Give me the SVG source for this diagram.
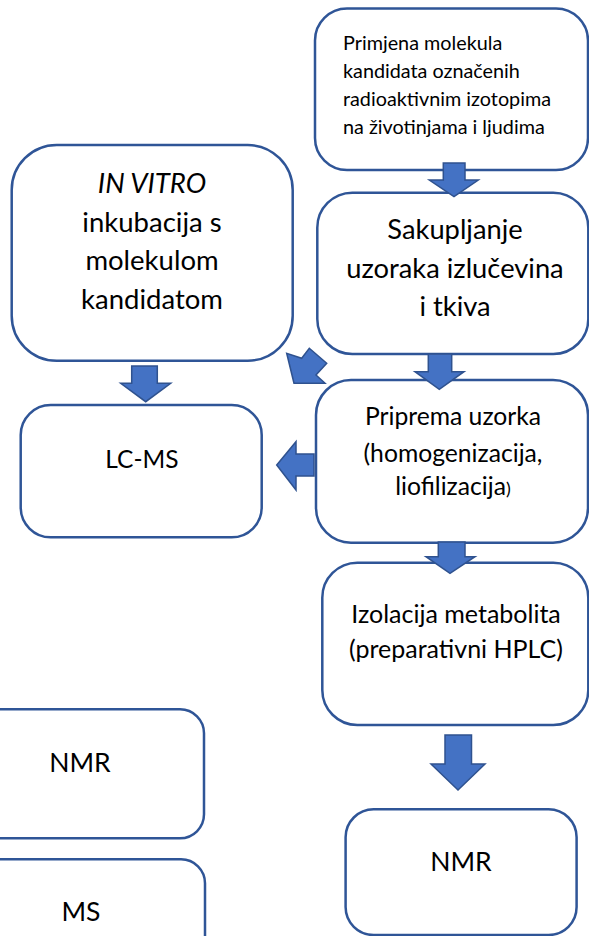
<svg xmlns="http://www.w3.org/2000/svg" width="589" height="936" viewBox="0 0 589 936">
<style>
.box{fill:#fff;stroke:#2F5597;stroke-width:2.5}
.arr{fill:#4472C4;stroke:#2F528F;stroke-width:1.5;stroke-linejoin:miter}
text{font-family:Lato,"Open Sans","Liberation Sans",sans-serif;fill:#000}
.c{text-anchor:middle}
</style>
<rect width="589" height="936" fill="#fff"/>
<g id="n-primjena">
<rect class="box" x="315" y="8.5" width="273" height="161.5" rx="32"/>
<text x="343" font-size="19.8"><tspan x="343" y="50">Primjena molekula</tspan><tspan x="343" y="78">kandidata označenih</tspan><tspan x="343" y="106">radioaktivnim izotopima</tspan><tspan x="343" y="133.5">na životinjama i ljudima</tspan></text>
</g>
<g id="n-invitro">
<rect class="box" x="11.7" y="145" width="281" height="215.7" rx="45"/>
<text class="c" font-size="27.5"><tspan x="152" y="193" font-style="italic">IN VITRO</tspan><tspan x="152" y="232">inkubacija s</tspan><tspan x="152" y="270">molekulom</tspan><tspan x="152" y="309">kandidatom</tspan></text>
</g>
<g id="n-sakupljanje">
<rect class="box" x="317.3" y="192.7" width="271" height="161.3" rx="35"/>
<text class="c" font-size="27.3"><tspan x="455" y="239">Sakupljanje</tspan><tspan x="455" y="278">uzoraka izlučevina</tspan><tspan x="455" y="316">i tkiva</tspan></text>
</g>
<g id="n-priprema">
<rect class="box" x="316" y="380" width="272" height="162.7" rx="35"/>
<text class="c" font-size="24.7"><tspan x="453" y="425">Priprema uzorka</tspan><tspan x="453" y="462">(homogenizacija,</tspan><tspan x="453" y="495">liofilizacija<tspan font-size="18">)</tspan></tspan></text>
</g>
<g id="n-lcms">
<rect class="box" x="20.7" y="405" width="241" height="132.3" rx="30"/>
<text class="c" x="142" y="468" font-size="24.5">LC-MS</text>
</g>
<g id="n-izolacija">
<rect class="box" x="322.3" y="562.7" width="266" height="162.3" rx="35"/>
<text class="c" font-size="25"><tspan x="456" y="623">Izolacija metabolita</tspan><tspan x="456" y="658">(preparativni HPLC)</tspan></text>
</g>
<g id="n-nmr-right">
<rect class="box" x="345.6" y="809.3" width="231" height="125.7" rx="28"/>
<text class="c" x="461" y="871" font-size="26.5">NMR</text>
</g>
<g id="n-nmr-left">
<rect class="box" x="-30" y="709.3" width="234" height="129" rx="24"/>
<text class="c" x="80" y="772" font-size="26.5">NMR</text>
</g>
<g id="n-ms-left">
<rect class="box" x="-30" y="859.3" width="235" height="130" rx="24"/>
<text class="c" x="81" y="921" font-size="26.5">MS</text>
</g>
<g id="connectors">
<polygon class="arr" points="443.3,163 465,163 465,180 478.3,180 454,196.7 429.3,180 443.3,180"/>
<polygon class="arr" points="428.3,354 451.7,354 451.7,371.7 464,371.7 439.3,389.3 415,371.7 428.3,371.7"/>
<polygon class="arr" points="438.3,542 465,542 465,556.7 475,556.7 450,573.3 426,556.7 438.3,556.7"/>
<polygon class="arr" points="445,735 471.5,735 471.5,764 485,764 458,790 431,764 445,764"/>
<polygon class="arr" points="131.7,366 157.3,366 157.3,383.3 170.7,383.3 145.7,401.7 120.7,383.3 131.7,383.3"/>
<polygon class="arr" points="314,454 314,476 296,476 296,490 276.7,465 296,441.7 296,454"/>
<polygon class="arr" points="294,383.3 286.7,353.3 301.7,358.3 309.3,348.3 326.7,363.3 316,375 325,383.3"/>
</g>
</svg>
